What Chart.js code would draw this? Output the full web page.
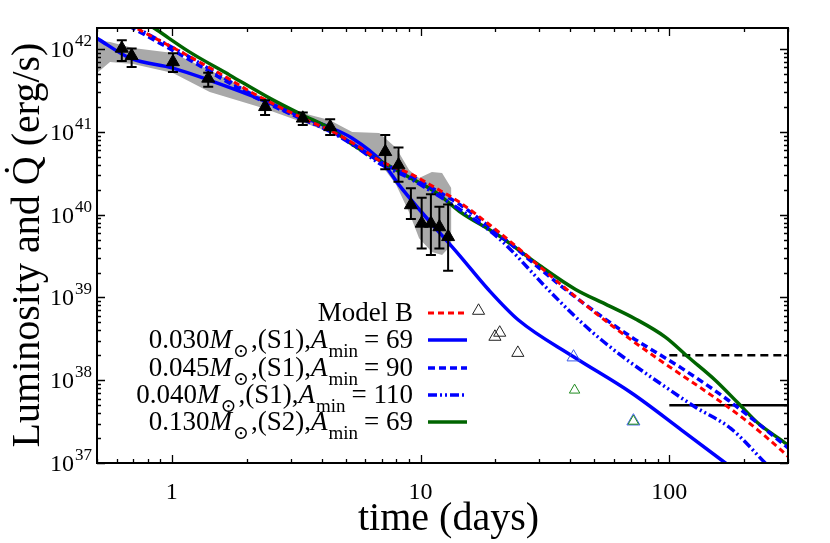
<!DOCTYPE html>
<html>
<head>
<meta charset="utf-8">
<script src="https://cdn.jsdelivr.net/npm/chart.js@4.4.1/dist/chart.umd.min.js"></script>
<style>
  html, body { margin: 0; padding: 0; background: #fff; }
  #wrap { width: 830px; height: 543px; }
</style>
</head>
<body>
<div id="wrap"><canvas id="lum" width="830" height="543"></canvas></div>
<script>
// observed light curve (days, erg/s) with error bar ends
const obsDays = [0.629, 0.689, 1.01, 1.40, 2.37, 3.36, 4.33, 7.21, 8.15, 9.14, 10.1, 11.0, 11.9, 12.9];
const obsLum  = [1.02e42, 8.3e41, 7.0e41, 4.43e41, 2.01e41, 1.46e41, 1.15e41, 5.75e40, 3.97e40, 1.31e40, 7.85e39, 7.85e39, 7.1e39, 5.4e39];
const obsHigh = [1.28e42, 1.02e42, 8.9e41, 5.2e41, 2.42e41, 1.72e41, 1.42e41, 9.15e40, 6.5e40, 2.08e40, 1.6e40, 1.76e40, 1.25e40, 1.33e40];
const obsLow  = [7.2e41, 6.1e41, 5.3e41, 3.5e41, 1.6e41, 1.21e41, 9.15e40, 3.55e40, 2.5e40, 8.85e39, 3.9e39, 3.25e39, 3.9e39, 2.1e39];

// late-time open symbols
const lateBlackDays = [17.1, 19.9, 20.8, 24.6];
const lateBlackLum  = [6.9e38, 3.35e38, 3.75e38, 2.14e38];
const lateBlueDays  = [41.2, 71.7];
const lateBlueLum   = [1.9e38, 3.2e37];
const lateGreenDays = [41.6, 71.7];
const lateGreenLum  = [7.6e37, 3.2e37];

// grey uncertainty band
const bandDays  = [0.5, 0.564, 0.698, 1.01, 1.42, 2.32, 3.35, 4.30, 5.31, 6.82, 7.98, 8.99, 9.86, 11.1, 12.2, 13.3];
const bandUpper = [1.28e42, 1.22e42, 1.03e42, 8.95e41, 5.57e41, 2.63e41, 1.69e41, 1.39e41, 9.95e40, 9.7e40, 6.37e40, 3.46e40, 2.77e40, 3.27e40, 3.18e40, 2.09e40];
const bandLower = [5.13e41, 6.97e41, 6.6e41, 5.13e41, 3.03e41, 1.94e41, 1.31e41, 9.95e40, 6.93e40, 4.32e40, 2.28e40, 1.07e40, 5.2e39, 3.53e39, 3.25e39, 4.3e39];

// model curves
const modelBDays = [0.62, 0.744, 1.18, 1.60, 2.19, 3.35, 4.30, 5.51, 7.01, 8.99, 11.5, 14.3, 20.6, 36.9, 50.5, 70.4, 96.4, 134, 168, 207, 281, 300];
const modelBLum  = [2.3e42, 1.70e42, 8.1e41, 4.85e41, 2.78e41, 1.47e41, 1.05e41, 6.93e40, 4.32e40, 3.18e40, 2.1e40, 1.42e40, 6.17e39, 1.41e39, 6.48e38, 3.06e38, 1.57e38, 8.05e37, 5.0e37, 3.13e37, 1.44e37, 1.2e37];

const s1a69Days = [0.5, 0.679, 1.01, 1.42, 2.32, 3.35, 4.30, 5.31, 7.01, 8.2, 10.1, 14.3, 18.8, 24.8, 41.2, 70.5, 112, 168, 200];
const s1a69Lum  = [1.35e42, 7.8e41, 5.9e41, 4.2e41, 2.42e41, 1.51e41, 1.14e41, 8.4e40, 4.32e40, 2.28e40, 1.07e40, 3.25e39, 1.23e39, 5.3e38, 1.92e38, 7.0e37, 2.5e37, 1.0e37, 6.7e36];

const s1a90Days = [0.564, 0.698, 1.18, 1.60, 2.19, 3.35, 4.30, 5.51, 7.01, 8.99, 11.5, 14.3, 20.6, 35.9, 50.5, 70.4, 112, 172, 281, 300];
const s1a90Lum  = [2.57e42, 1.79e42, 7.4e41, 4.34e41, 2.56e41, 1.43e41, 1.05e41, 6.74e40, 4.2e40, 3.01e40, 1.98e40, 1.34e40, 5.83e39, 1.45e39, 6.66e38, 3.32e38, 1.4e38, 5.77e37, 1.79e37, 1.52e37];

const s1a110Days = [0.564, 0.679, 1.18, 1.60, 2.19, 3.35, 4.30, 5.51, 7.01, 8.99, 11.5, 14.3, 20.6, 32.7, 42.0, 53.4, 70.4, 96.4, 127, 177, 243, 280];
const s1a110Lum  = [2.8e42, 2.0e42, 8.0e41, 4.59e41, 2.63e41, 1.43e41, 1.02e41, 6.55e40, 3.97e40, 2.77e40, 1.77e40, 1.17e40, 5.2e39, 1.23e39, 5.8e38, 3.06e38, 1.61e38, 8.3e37, 4.75e37, 2.6e37, 1.0e37, 6.5e36];

const s2a69Days = [0.744, 0.871, 1.18, 1.71, 2.47, 3.35, 4.30, 5.51, 7.01, 8.99, 11.5, 14.3, 20.6, 30.0, 42.0, 55.4, 73.1, 96.4, 119, 153, 189, 227, 281, 300];
const s2a69Lum  = [2.32e42, 1.70e42, 9.2e41, 4.85e41, 2.56e41, 1.6e41, 1.11e41, 6.55e40, 4.32e40, 2.84e40, 1.87e40, 1.1e40, 5.6e39, 2.45e39, 1.25e39, 8.3e38, 5.5e38, 3.32e38, 1.91e38, 1.0e38, 5.3e37, 3.04e37, 1.9e37, 1.65e37];

// horizontal limits from 100 to 300 days
const limitDays = [100, 300];
const limitDashed = 2e38;
const limitSolid = 5e37;

// axis ticks
const xTickLabels = [1, 10, 100];
const yTickExponents = [37, 38, 39, 40, 41, 42];

// legend texts
const legendModelB = 'Model B';
const legendMasses = ['0.030', '0.045', '0.040', '0.130'];
const legendSets   = ['S1', 'S1', 'S1', 'S2'];
const legendAmin   = ['69', '90', '110', '69'];

const pts = (xs, ys) => xs.map((v, i) => ({x: v, y: ys[i]}));

function modelLine(xs, ys, color, dash, width, legendIdx) {
  return {
    type: 'line', data: pts(xs, ys), borderColor: color, borderDash: dash,
    borderWidth: width, pointRadius: 0, fill: false, cubicInterpolationMode: 'monotone', clip: 0,
    legendIdx: legendIdx, order: 2
  };
}

const datasets = [
  {type: 'scatter', data: pts(obsDays, obsLum), pointStyle: 'triangle', pointRadius: 7.5,
   backgroundColor: '#000', borderColor: '#000', borderWidth: 1, order: 0},
  {type: 'scatter', data: pts(lateBlackDays, lateBlackLum), pointStyle: 'triangle', pointRadius: 7,
   backgroundColor: 'rgba(0,0,0,0)', borderColor: '#222', borderWidth: 1, order: 0},
  {type: 'scatter', data: pts(lateGreenDays, lateGreenLum), pointStyle: 'triangle', pointRadius: 6,
   backgroundColor: 'rgba(0,0,0,0)', borderColor: '#1f8a1f', borderWidth: 1, order: 0},
  {type: 'scatter', data: pts(lateBlueDays, lateBlueLum), pointStyle: 'triangle', pointRadius: 7.5,
   backgroundColor: 'rgba(0,0,0,0)', borderColor: '#3a5ae8', borderWidth: 1, order: 0},
  modelLine(modelBDays, modelBLum, '#ff0000', [6, 4], 3, 0),
  modelLine(s1a90Days, s1a90Lum, '#0000ff', [7, 4], 3.5, 2),
  modelLine(s1a110Days, s1a110Lum, '#0000ff', [9, 3, 2, 3, 2, 3], 3.5, 3),
  modelLine(s2a69Days, s2a69Lum, '#006400', [], 3.5, 4),
  modelLine(s1a69Days, s1a69Lum, '#0000ff', [], 3.5, 1),
  {type: 'line', data: pts(limitDays, [limitDashed, limitDashed]), borderColor: '#000', borderDash: [8, 5],
   borderWidth: 2.5, pointRadius: 0, fill: false, order: 3},
  {type: 'line', data: pts(limitDays, [limitSolid, limitSolid]), borderColor: '#000',
   borderWidth: 2.5, pointRadius: 0, fill: false, order: 3},
  {type: 'line', data: pts(bandDays, bandUpper), borderWidth: 0, pointRadius: 0,
   backgroundColor: '#a9a9a9', fill: '+1', order: 10},
  {type: 'line', data: pts(bandDays, bandLower), borderWidth: 0, pointRadius: 0,
   backgroundColor: '#a9a9a9', fill: false, order: 10}
];

const SERIF = '"Liberation Serif", "DejaVu Serif", serif';

function logTicks(min, max) {
  const out = [];
  for (let d = Math.floor(Math.log10(min)); d <= Math.ceil(Math.log10(max)); d++) {
    for (let m = 1; m <= 9; m++) {
      const v = m * Math.pow(10, d);
      if (v >= min * 0.999 && v <= max * 1.001) out.push({v: v, major: m === 1});
    }
  }
  return out;
}

// draws a run of [text, style, extraGap] pieces ending at xRight
function drawPieces(ctx, pieces, xRight, base, size) {
  const fontFor = s => (s === 'it' ? 'italic ' + size + 'px ' : s === 'sub' ? Math.round(size * 0.72) + 'px ' : size + 'px ') + SERIF;
  let w = 0;
  pieces.forEach(p => { ctx.font = fontFor(p[1]); w += ctx.measureText(p[0]).width + (p[2] || 0); });
  let cx = xRight - w;
  ctx.textAlign = 'left';
  pieces.forEach(p => {
    ctx.font = fontFor(p[1]);
    ctx.fillText(p[0], cx, base + (p[1] === 'sub' ? size * 0.32 : 0));
    cx += ctx.measureText(p[0]).width + (p[2] || 0);
  });
}

const decor = {
  id: 'decor',
  afterDatasetsDraw(chart) {
    const {ctx, chartArea: a, scales: {x, y}} = chart;
    ctx.save();
    ctx.fillStyle = '#000';
    ctx.strokeStyle = '#000';

    // error bars
    ctx.lineWidth = 2;
    obsDays.forEach((d, i) => {
      const px = x.getPixelForValue(d);
      const hi = y.getPixelForValue(obsHigh[i]);
      const lo = y.getPixelForValue(obsLow[i]);
      ctx.beginPath();
      ctx.moveTo(px, hi); ctx.lineTo(px, lo);
      ctx.moveTo(px - 5, hi); ctx.lineTo(px + 5, hi);
      ctx.moveTo(px - 5, lo); ctx.lineTo(px + 5, lo);
      ctx.stroke();
    });

    // frame
    ctx.lineWidth = 2;
    ctx.strokeRect(a.left, a.top, a.right - a.left, a.bottom - a.top);

    // inward ticks on all four sides
    ctx.lineWidth = 1.3;
    ctx.beginPath();
    logTicks(x.min, x.max).forEach(t => {
      const px = Math.round(x.getPixelForValue(t.v)) + 0.5, len = t.major ? 8 : 4;
      ctx.moveTo(px, a.bottom); ctx.lineTo(px, a.bottom - len);
      ctx.moveTo(px, a.top); ctx.lineTo(px, a.top + len);
    });
    logTicks(y.min, y.max).forEach(t => {
      const py = Math.round(y.getPixelForValue(t.v)) + 0.5, len = t.major ? 8 : 4;
      ctx.moveTo(a.left, py); ctx.lineTo(a.left + len, py);
      ctx.moveTo(a.right, py); ctx.lineTo(a.right - len, py);
    });
    ctx.stroke();

    // tick labels
    ctx.textBaseline = 'alphabetic';
    ctx.font = '24px ' + SERIF;
    ctx.textAlign = 'center';
    xTickLabels.forEach(v => ctx.fillText(String(v), x.getPixelForValue(v), a.bottom + 36));
    yTickExponents.forEach(e => {
      const py = y.getPixelForValue(Math.pow(10, e));
      ctx.font = '17px ' + SERIF;
      ctx.textAlign = 'right';
      const ew = ctx.measureText(String(e)).width;
      ctx.fillText(String(e), a.left - 5, py - 3);
      ctx.font = '24px ' + SERIF;
      ctx.fillText('10', a.left - 6 - ew, py + 8);
    });

    // axis titles
    ctx.font = '40px ' + SERIF;
    ctx.textAlign = 'center';
    ctx.fillText('time (days)', (a.left + a.right) / 2 + 6, 530);
    ctx.save();
    ctx.translate(39, 245);
    ctx.rotate(-Math.PI / 2);
    ctx.fillText('Luminosity and Q\u0307 (erg/s)', 0, 0);
    ctx.restore();

    // legend
    const rows = [313, 340, 368, 395, 422];
    const lines = chart.data.datasets.filter(ds => ds.legendIdx !== undefined)
      .sort((p, q) => p.legendIdx - q.legendIdx);
    lines.forEach((ds, k) => {
      const ry = rows[k];
      ctx.fillStyle = '#000';
      if (k === 0) {
        drawPieces(ctx, [[legendModelB, 'rm']], 413, ry + 8, 27);
      } else {
        const i = k - 1;
        drawPieces(ctx, [
          [legendMasses[i], 'rm'], ['M', 'it', 1], ['\u2299', 'sub', 2],
          [',(' + legendSets[i] + '),', 'rm'], ['A', 'it', 1], ['min', 'sub', 6],
          ['= ' + legendAmin[i], 'rm']
        ], 413, ry + 8, 27);
      }
      ctx.strokeStyle = ds.borderColor;
      ctx.lineWidth = ds.borderWidth;
      ctx.setLineDash(ds.borderDash || []);
      ctx.beginPath();
      ctx.moveTo(428, ry); ctx.lineTo(467, ry);
      ctx.stroke();
      ctx.setLineDash([]);
    });
    ctx.restore();
  }
};

new Chart(document.getElementById('lum'), {
  data: {datasets: datasets},
  options: {
    responsive: false,
    animation: false,
    layout: {padding: {left: 97, right: 42, top: 28, bottom: 80}},
    plugins: {legend: {display: false}, tooltip: {enabled: false}},
    scales: {
      x: {type: 'logarithmic', min: 0.5, max: 300, display: false},
      y: {type: 'logarithmic', min: 1e37, max: 1.8e42, display: false}
    }
  },
  plugins: [decor]
});
</script>
</body>
</html>
